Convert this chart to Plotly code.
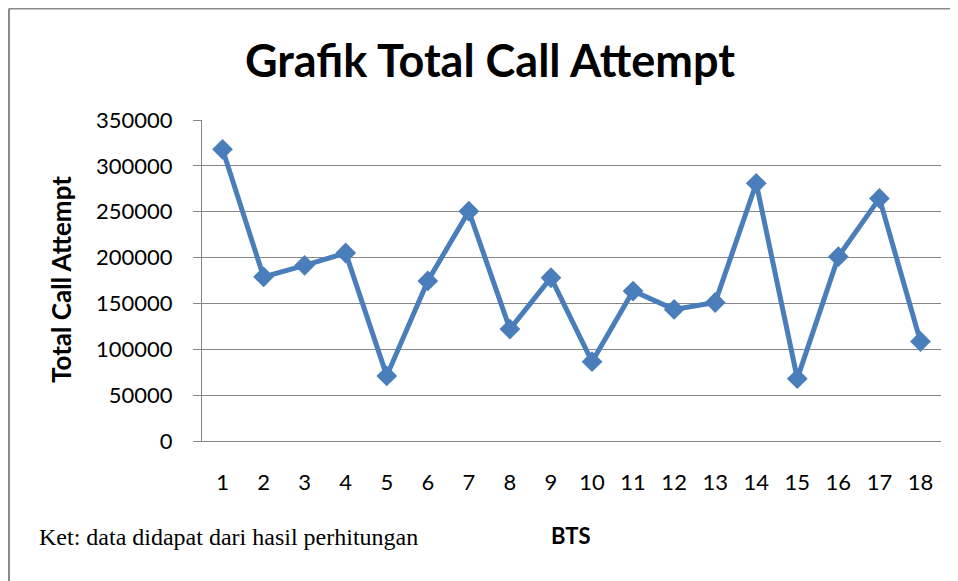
import plotly.graph_objects as go

# The page body has an 8px default margin, so the figure is drawn 8px smaller
# and every reference pixel position is shifted by OFF.
OFF = 8
W, H = 958 - OFF, 581 - OFF

bts = list(range(1, 19))
total_call_attempt = [318000, 179000, 191500, 205000, 71000, 174500, 250500, 122000, 178000,
                      86500, 163500, 143500, 151000, 281000, 68000, 201000, 264500, 108500]
y_ticks = [0, 50000, 100000, 150000, 200000, 250000, 300000, 350000]

title_text = "Grafik Total Call Attempt"
y_title = "Total Call Attempt"
x_title = "BTS"
note_text = "Ket: data didapat dari hasil perhitungan"

# plot area in reference pixels
px_left, px_right = 202, 941
py_top, py_bottom = 120, 441

def fx(px):
    return (px - OFF) / W

def fy(py):
    return 1 - (py - OFF) / H

grid = "#868686"
blue = "#4A7EBB"
font_main = "Lato"

fig = go.Figure()
fig.add_trace(go.Scatter(
    x=bts, y=total_call_attempt, mode="lines+markers",
    line=dict(color=blue, width=5),
    marker=dict(symbol="diamond", size=16, color=blue),
    showlegend=False, hoverinfo="x+y",
))

fig.update_layout(
    width=W, height=H,
    margin=dict(l=0, r=0, t=0, b=0),
    paper_bgcolor="white", plot_bgcolor="white",
    font=dict(family=font_main, color="#000000"),
    xaxis=dict(
        domain=[fx(px_left), fx(px_right)],
        range=[0.5, 18.5], tickmode="array", tickvals=bts,
        ticktext=[str(b) for b in bts],
        showgrid=False, zeroline=False,
        showline=True, linecolor=grid, linewidth=1,
        ticks="outside", ticklen=22, tickcolor="rgba(0,0,0,0)",
        tickfont=dict(family=font_main, size=22, color="#000000"),
        automargin=False, fixedrange=True,
    ),
    yaxis=dict(
        domain=[fy(py_bottom), fy(py_top)],
        range=[0, 350000], tickmode="array", tickvals=y_ticks,
        ticktext=[str(v) for v in y_ticks],
        showgrid=True, gridcolor=grid, gridwidth=1,
        zeroline=False, showline=True, linecolor=grid, linewidth=1,
        ticks="outside", ticklen=8, tickcolor=grid, tickwidth=1,
        ticklabelstandoff=16,
        tickfont=dict(family=font_main, size=22, color="#000000"),
        automargin=False, fixedrange=True,
    ),
    shapes=[
        dict(type="line", xref="paper", yref="paper",
             x0=fx(9), x1=1.0, y0=fy(8.5), y1=fy(8.5),
             line=dict(color="#898989", width=2)),
        dict(type="line", xref="paper", yref="paper",
             x0=fx(9), x1=fx(9), y0=fy(8.5), y1=0,
             line=dict(color="#898989", width=2)),
    ],
    annotations=[
        dict(text=f"<b>{title_text}</b>", xref="paper", yref="paper",
             x=fx(489.5), y=fy(60), xanchor="center", yanchor="middle",
             showarrow=False, font=dict(family=font_main, size=45, color="#000000")),
        dict(text=f"<b>{y_title}</b>", xref="paper", yref="paper",
             x=fx(61), y=fy(280), xanchor="center", yanchor="middle", textangle=-90,
             showarrow=False, font=dict(family=font_main, size=26, color="#000000")),
        dict(text=f"<b>{x_title}</b>", xref="paper", yref="paper",
             x=fx(571), y=fy(535), xanchor="center", yanchor="middle",
             showarrow=False, font=dict(family=font_main, size=22, color="#000000")),
        dict(text=note_text, xref="paper", yref="paper",
             x=fx(37), y=fy(537), xanchor="left", yanchor="middle",
             showarrow=False, font=dict(family="Liberation Serif", size=24, color="#000000")),
    ],
)

fig.write_html("out.html")
